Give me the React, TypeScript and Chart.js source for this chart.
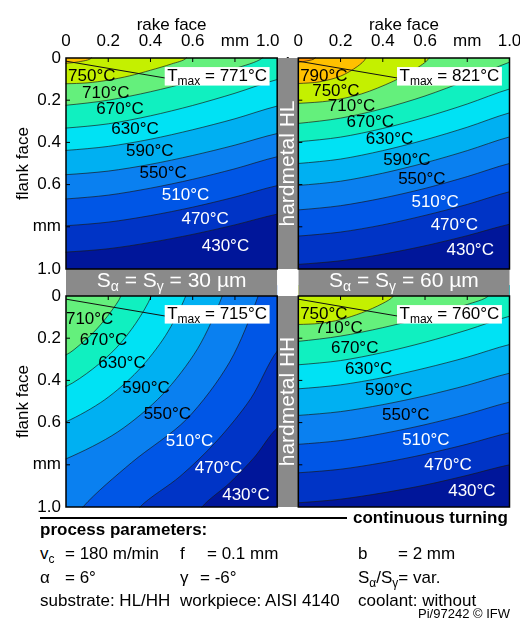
import React, { useEffect, useRef } from 'react';
import { Chart, registerables } from 'chart.js';

Chart.register(...registerables);

type Pt = [number, number];
type Iso = [number, Pt[]];
type Lbl = [number, number, number];

// ---- axis ticks (mm) ----
const axisTicks = [0, 0.2, 0.4, 0.6, 0.8, 1.0];
const axisTickLabels = ['0', '0.2', '0.4', '0.6', 'mm', '1.0'];

// ---- colour bands (band centre temperature -> colour) ----
const bandTemps = [430, 470, 510, 550, 590, 630, 670, 710, 750, 790, 830];
const bandColors = ['#00169a', '#0034c6', '#0056e6', '#0a80f0', '#00b0f2', '#00e2f4', '#10f0c0', '#64f07c', '#c4f000', '#ffc000', '#ff9400'];

// ---- isotherms: [level °C, points (x mm along rake face, y mm along flank face)] ----
const isoHL30: Iso[] = [
  [450, [[0, 0.92], [0.2, 0.904], [0.4, 0.874], [0.6, 0.836], [0.8, 0.791], [1, 0.74]]],
  [490, [[0, 0.795], [0.2, 0.778], [0.4, 0.747], [0.6, 0.707], [0.8, 0.659], [1, 0.605]]],
  [530, [[0, 0.668], [0.2, 0.65], [0.4, 0.617], [0.6, 0.575], [0.8, 0.525], [1, 0.468]]],
  [570, [[0, 0.553], [0.2, 0.536], [0.4, 0.504], [0.6, 0.462], [0.8, 0.413], [1, 0.358]]],
  [610, [[0, 0.438], [0.2, 0.419], [0.4, 0.385], [0.6, 0.34], [0.8, 0.288], [1, 0.228]]],
  [650, [[0, 0.332], [0.2, 0.312], [0.4, 0.274], [0.6, 0.225], [0.8, 0.167], [1, 0.102]]],
  [690, [[0, 0.224], [0.2, 0.2], [0.4, 0.16], [0.6, 0.11], [0.8, 0.05], [0.93, 0]]],
  [730, [[0, 0.122], [0.1, 0.118], [0.2, 0.105], [0.3, 0.085], [0.4, 0.058], [0.5, 0.028], [0.57, 0]]],
  [770, [[0, 0.025], [0.06, 0.018], [0.12, 0]]],
];
const isoHL60: Iso[] = [
  [450, [[0, 0.978], [0.2, 0.961], [0.4, 0.93], [0.6, 0.89], [0.8, 0.842], [1, 0.788]]],
  [490, [[0, 0.844], [0.2, 0.825], [0.4, 0.791], [0.6, 0.746], [0.8, 0.694], [1, 0.634]]],
  [530, [[0, 0.72], [0.2, 0.7], [0.4, 0.664], [0.6, 0.618], [0.8, 0.562], [1, 0.5]]],
  [570, [[0, 0.604], [0.2, 0.584], [0.4, 0.546], [0.6, 0.497], [0.8, 0.439], [1, 0.374]]],
  [610, [[0, 0.5], [0.2, 0.479], [0.4, 0.439], [0.6, 0.388], [0.8, 0.328], [1, 0.26]]],
  [650, [[0, 0.397], [0.2, 0.375], [0.4, 0.334], [0.6, 0.281], [0.8, 0.218], [1, 0.147]]],
  [690, [[0, 0.31], [0.2, 0.285], [0.4, 0.24], [0.6, 0.18], [0.8, 0.105], [1, 0.02]]],
  [730, [[0, 0.215], [0.15, 0.203], [0.3, 0.17], [0.45, 0.11], [0.55, 0.055], [0.62, 0]]],
  [770, [[0, 0.121], [0.1, 0.113], [0.2, 0.086], [0.28, 0.04], [0.32, 0]]],
  [810, [[0, 0.02], [0.04, 0.014], [0.08, 0]]],
];
const isoHH30: Iso[] = [
  [450, [[0.644, 1], [0.775, 0.886], [0.893, 0.763], [1, 0.626]]],
  [490, [[0.35, 1], [0.54, 0.855], [0.715, 0.686], [0.875, 0.486], [1, 0.261]]],
  [530, [[0.08, 1], [0.31, 0.79], [0.571, 0.584], [0.775, 0.313], [0.91, 0]]],
  [570, [[0, 0.772], [0.244, 0.645], [0.456, 0.468], [0.623, 0.25], [0.74, 0]]],
  [610, [[0, 0.596], [0.183, 0.492], [0.341, 0.354], [0.471, 0.188], [0.567, 0]]],
  [650, [[0, 0.429], [0.125, 0.347], [0.237, 0.247], [0.33, 0.13], [0.404, 0]]],
  [690, [[0, 0.279], [0.074, 0.224], [0.146, 0.156], [0.209, 0.079], [0.26, 0]]],
];
const isoHH60: Iso[] = [
  [450, [[0, 0.98], [0.2, 0.963], [0.4, 0.933], [0.6, 0.896], [0.8, 0.85], [1, 0.8]]],
  [490, [[0, 0.838], [0.2, 0.821], [0.4, 0.79], [0.6, 0.75], [0.8, 0.702], [1, 0.648]]],
  [530, [[0, 0.703], [0.2, 0.685], [0.4, 0.652], [0.6, 0.61], [0.8, 0.56], [1, 0.503]]],
  [570, [[0, 0.566], [0.2, 0.548], [0.4, 0.515], [0.6, 0.473], [0.8, 0.423], [1, 0.366]]],
  [610, [[0, 0.44], [0.2, 0.421], [0.4, 0.387], [0.6, 0.342], [0.8, 0.29], [1, 0.23]]],
  [650, [[0, 0.326], [0.2, 0.306], [0.4, 0.268], [0.6, 0.219], [0.8, 0.161], [1, 0.096]]],
  [690, [[0, 0.215], [0.2, 0.19], [0.4, 0.15], [0.6, 0.1], [0.8, 0.04], [0.9, 0]]],
  [730, [[0, 0.135], [0.1, 0.13], [0.2, 0.112], [0.3, 0.08], [0.4, 0.035], [0.45, 0]]],
];

// ---- band labels: [°C, x mm, y mm] ----
const labelsHL30: Lbl[] = [[750, 0.122, 0.082], [710, 0.188, 0.161], [670, 0.256, 0.24], [630, 0.327, 0.335], [590, 0.397, 0.438], [550, 0.46, 0.54], [510, 0.566, 0.648], [470, 0.659, 0.761], [430, 0.755, 0.888]];
const labelsHL60: Lbl[] = [[790, 0.121, 0.08], [750, 0.178, 0.153], [710, 0.252, 0.223], [670, 0.341, 0.302], [630, 0.432, 0.382], [590, 0.514, 0.478], [550, 0.585, 0.569], [510, 0.648, 0.679], [470, 0.739, 0.789], [430, 0.814, 0.907]];
const labelsHH30: Lbl[] = [[710, 0.112, 0.106], [670, 0.178, 0.207], [630, 0.265, 0.316], [590, 0.379, 0.431], [550, 0.48, 0.558], [510, 0.585, 0.686], [470, 0.722, 0.812], [430, 0.852, 0.938]];
const labelsHH60: Lbl[] = [[750, 0.121, 0.08], [710, 0.193, 0.148], [670, 0.267, 0.241], [630, 0.333, 0.341], [590, 0.428, 0.443], [550, 0.509, 0.561], [510, 0.604, 0.679], [470, 0.709, 0.797], [430, 0.822, 0.923]];

const tmaxValues = [771, 821, 715, 760];
const contactLine: Pt[] = [[0, 0.015], [0.47, 0.095]];
const wearLands = ['30', '60'];
const hardmetals = ['HL', 'HH'];

// ---- layout config ----
const COL_OFF = [0, 1.1];
const ROW_OFF = [0, 1.128];
const GRAY = '#8a8a8a';
const FONT = '"Liberation Sans", Arial, Helvetica, sans-serif';
const fnt = (s: number, b = false) => `${b ? 'bold ' : ''}${s}px ${FONT}`;

const panels = [
  { iso: isoHL30, labels: labelsHL30, tmax: tmaxValues[0], col: 0, row: 0 },
  { iso: isoHL60, labels: labelsHL60, tmax: tmaxValues[1], col: 1, row: 0 },
  { iso: isoHH30, labels: labelsHH30, tmax: tmaxValues[2], col: 0, row: 1 },
  { iso: isoHH60, labels: labelsHH60, tmax: tmaxValues[3], col: 1, row: 1 },
];

const colorFor = (t: number) => bandColors[bandTemps.indexOf(t)] || bandColors[bandColors.length - 1];

// closed region hotter than the isotherm (towards the tool tip at top-left)
function hotRegion(pts: Pt[]): Pt[] {
  const e = 0.05;
  const s = pts[0];
  const t = pts[pts.length - 1];
  const out: Pt[] = [[-e, -e]];
  if (s[1] >= 1) out.push([-e, 1 + e], [s[0], 1 + e]);
  else out.push([-e, s[1]]);
  out.push(...pts);
  if (t[1] <= 0) out.push([t[0], -e]);
  else out.push([1 + e, t[1]], [1 + e, -e]);
  return out;
}

function buildDatasets() {
  const list: any[] = [];
  panels.forEach((p) => {
    const ox = COL_OFF[p.col];
    const oy = ROW_OFF[p.row];
    const tr = (pts: Pt[]) => pts.map(([x, y]) => ({ x: x + ox, y: y + oy }));
    const sorted = [...p.iso].sort((a, b) => a[0] - b[0]);
    list.push({
      data: tr([[0, 0], [0, 1], [1, 1], [1, 0]]),
      fill: 'shape', backgroundColor: colorFor(sorted[0][0] - 20), borderWidth: 0, pointRadius: 0, tension: 0,
    });
    sorted.forEach(([lvl, pts]) => {
      list.push({
        data: tr(hotRegion(pts)),
        fill: 'shape', backgroundColor: colorFor(lvl + 20), borderColor: 'rgba(25,25,25,0.85)', borderWidth: 0.8,
        pointRadius: 0, tension: 0.3,
      });
    });
    list.push({ data: tr(contactLine), fill: false, borderColor: '#111', borderWidth: 1, pointRadius: 0, tension: 0 });
  });
  return list.reverse();
}

function drawRuns(ctx: CanvasRenderingContext2D, runs: [string, number, number][], x: number, y: number, align: string) {
  let total = 0;
  for (const [t, s] of runs) { ctx.font = fnt(s); total += ctx.measureText(t).width; }
  let cx = align === 'center' ? x - total / 2 : align === 'right' ? x - total : x;
  ctx.textAlign = 'left';
  ctx.textBaseline = 'alphabetic';
  for (const [t, s, dy] of runs) { ctx.font = fnt(s); ctx.fillText(t, cx, y + dy); cx += ctx.measureText(t).width; }
  return total;
}

const overlay = {
  id: 'overlay',
  afterDraw(chart: any) {
    const ctx: CanvasRenderingContext2D = chart.ctx;
    const xs = chart.scales.x;
    const ys = chart.scales.y;
    const px = (v: number) => xs.getPixelForValue(v);
    const py = (v: number) => ys.getPixelForValue(v);
    ctx.save();
    // gray separators
    ctx.fillStyle = GRAY;
    ROW_OFF.forEach((oy) => ctx.fillRect(px(1), py(oy), px(1.1) - px(1), py(oy + 1) - py(oy)));
    COL_OFF.forEach((ox) => ctx.fillRect(px(ox), py(1), px(ox + 1) - px(ox), py(1.128) - py(1)));
    ctx.fillStyle = '#fff';
    ctx.fillRect(px(1), py(1), px(1.1) - px(1), py(1.128) - py(1));

    panels.forEach((p) => {
      const ox = COL_OFF[p.col];
      const oy = ROW_OFF[p.row];
      // inward ticks
      ctx.strokeStyle = '#000';
      ctx.lineWidth = 1;
      ctx.beginPath();
      [0.2, 0.4, 0.6, 0.8].forEach((v) => {
        ctx.moveTo(px(ox), py(oy + v)); ctx.lineTo(px(ox) + 4, py(oy + v));
        ctx.moveTo(px(ox + v), py(oy)); ctx.lineTo(px(ox + v), py(oy) + 4);
      });
      ctx.stroke();
      // border
      ctx.lineWidth = 1.5;
      ctx.strokeRect(px(ox), py(oy), px(ox + 1) - px(ox), py(oy + 1) - py(oy));
      // band labels
      ctx.font = fnt(17);
      ctx.textAlign = 'center';
      ctx.textBaseline = 'middle';
      p.labels.forEach(([t, x, y]) => {
        ctx.fillStyle = t >= 550 ? '#000' : '#fff';
        ctx.fillText(`${t}°C`, px(ox + x), py(oy + y) + 1);
      });
      // Tmax box
      const runs: [string, number, number][] = [['T', 17, 0], ['max', 12, 4], [` = ${p.tmax}°C`, 17, 0]];
      let w = 0;
      runs.forEach(([t, s]) => { ctx.font = fnt(s); w += ctx.measureText(t).width; });
      const right = px(ox + 0.964);
      const top = py(oy + 0.043);
      ctx.fillStyle = '#fff';
      ctx.fillRect(right - w - 5, top, w + 5, 18.5);
      ctx.fillStyle = '#000';
      drawRuns(ctx, runs, right - w - 2.5, top + 14, 'left');
    });

    // separator texts
    ctx.fillStyle = '#fff';
    COL_OFF.forEach((ox, i) => {
      drawRuns(ctx, [['S', 21, 0], ['α', 14, 4], [' = S', 21, 0], ['γ', 14, 4], [` = ${wearLands[i]} µm`, 21, 0]], px(ox + 0.5), py(1) + 18, 'center');
    });
    ROW_OFF.forEach((oy, i) => {
      ctx.save();
      ctx.translate(px(1) + 17, py(oy + 0.5));
      ctx.rotate(-Math.PI / 2);
      ctx.font = fnt(21);
      ctx.textAlign = 'center';
      ctx.textBaseline = 'alphabetic';
      ctx.fillText(`hardmetal ${hardmetals[i]}`, 0, 0);
      ctx.restore();
    });

    // axis titles
    ctx.fillStyle = '#000';
    ctx.font = fnt(17);
    ctx.textAlign = 'center';
    ctx.textBaseline = 'alphabetic';
    COL_OFF.forEach((ox) => ctx.fillText('rake face', px(ox + 0.5), 30));
    ROW_OFF.forEach((oy) => {
      ctx.save();
      ctx.translate(28, py(oy + 0.5));
      ctx.rotate(-Math.PI / 2);
      ctx.fillText('flank face', 0, 0);
      ctx.restore();
    });
    ctx.restore();
  },
};

const xTickVals = COL_OFF.flatMap((o) => axisTicks.map((t) => +(o + t).toFixed(3)));
const xTickText = COL_OFF.flatMap((o, ci) => axisTickLabels.map((l, i) => (ci === 0 && i === axisTicks.length - 1 ? l + '    ' : l)));
const yTickVals = ROW_OFF.flatMap((o) => axisTicks.map((t) => +(o + t).toFixed(3)));
const yTickText = ROW_OFF.flatMap(() => axisTickLabels);

export default function App() {
  const ref = useRef<HTMLCanvasElement>(null);
  useEffect(() => {
    const canvas = ref.current;
    if (!canvas) return;
    const chart = new Chart(canvas, {
      type: 'line',
      data: { datasets: buildDatasets() },
      options: {
        animation: false,
        responsive: false,
        events: [],
        layout: { padding: { left: 0, top: 0, right: 10.5, bottom: 13 } },
        plugins: { legend: { display: false }, tooltip: { enabled: false } },
        scales: {
          x: {
            type: 'linear', position: 'top', bounds: 'data',
            afterDataLimits: (s: any) => { s.min = 0; s.max = 2.1; },
            afterBuildTicks: (s: any) => { s.ticks = xTickVals.map((v) => ({ value: v })); },
            afterFit: (s: any) => { s.height = 58; s.paddingLeft = 0; s.paddingRight = 0; },
            grid: { display: false, drawTicks: false },
            border: { display: false },
            ticks: {
              autoSkip: false, maxRotation: 0, minRotation: 0, padding: 6, color: '#000',
              font: { family: FONT, size: 17 },
              callback: (_v: any, i: number) => xTickText[i],
            },
          },
          y: {
            type: 'linear', reverse: true, bounds: 'data',
            afterDataLimits: (s: any) => { s.min = 0; s.max = 2.128; },
            afterBuildTicks: (s: any) => { s.ticks = yTickVals.map((v) => ({ value: v })); },
            afterFit: (s: any) => { s.width = 66; s.paddingTop = 0; s.paddingBottom = 0; },
            grid: { display: false, drawTicks: false },
            border: { display: false },
            ticks: {
              autoSkip: false, padding: 5, color: '#000',
              font: { family: FONT, size: 17 },
              callback: (_v: any, i: number) => yTickText[i],
            },
          },
        },
      } as any,
      plugins: [overlay],
    });
    return () => chart.destroy();
  }, []);

  const txt = (left: number, baseline: number, size: number, bold: boolean, children: any, extra: any = {}) => (
    <div style={{ position: 'absolute', left, top: baseline - 0.8465 * size, fontSize: size, lineHeight: `${size}px`, fontWeight: bold ? 'bold' : 'normal', whiteSpace: 'nowrap', ...extra }}>{children}</div>
  );
  const sub = (s: string) => <span style={{ fontSize: 12, position: 'relative', top: 4 }}>{s}</span>;

  return (
    <div style={{ position: 'absolute', left: 0, top: 0, width: 520, height: 622, background: '#fff', fontFamily: FONT, color: '#000', overflow: 'hidden' }}>
      <canvas ref={ref} width={520} height={520} style={{ position: 'absolute', left: 0, top: 0 }} />
      <div style={{ position: 'absolute', left: 40, top: 517, width: 307, height: 2, background: '#000' }} />
      {txt(353, 523, 17, true, 'continuous turning')}
      {txt(40, 535, 17, true, 'process parameters:')}
      {txt(40, 559, 17, false, <>v{sub('c')}</>)}
      {txt(65, 559, 17, false, '= 180 m/min')}
      {txt(180, 559, 17, false, 'f')}
      {txt(207, 559, 17, false, '= 0.1 mm')}
      {txt(358, 559, 17, false, 'b')}
      {txt(398, 559, 17, false, '= 2 mm')}
      {txt(40, 583, 17, false, 'α')}
      {txt(65, 583, 17, false, '= 6°')}
      {txt(180, 583, 17, false, 'γ')}
      {txt(200, 583, 17, false, '= -6°')}
      {txt(358, 583, 17, false, <>S{sub('α')}/S{sub('γ')}= var.</>)}
      {txt(40, 606, 17, false, 'substrate: HL/HH')}
      {txt(180, 606, 17, false, 'workpiece: AISI 4140')}
      {txt(358, 606, 17, false, 'coolant: without')}
      <div style={{ position: 'absolute', right: 10, top: 618 - 0.8465 * 13, fontSize: 13, lineHeight: '13px', whiteSpace: 'nowrap' }}>Pi/97242 © IFW</div>
    </div>
  );
}
